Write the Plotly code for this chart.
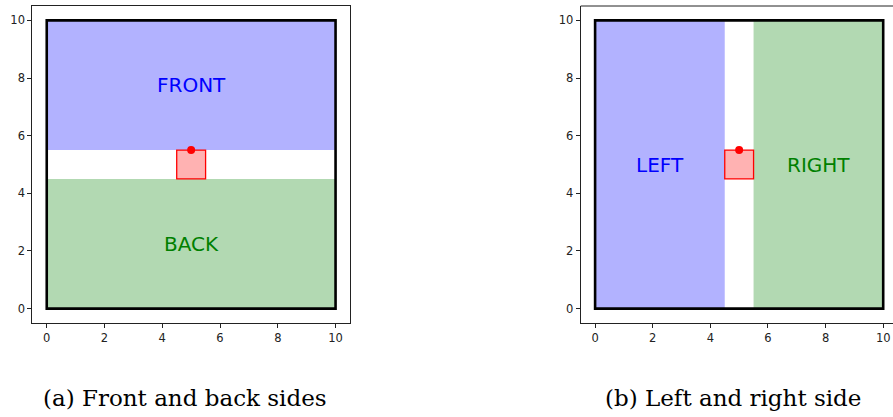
import plotly.graph_objects as go

W, H = 893, 417

# Data
tick_vals = [0, 2, 4, 6, 8, 10]
tick_text = ["0", "2", "4", "6", "8", "10"]

# Panel (a): front/back regions (x0, y0, x1, y1)
front_rect = [0, 5.5, 10, 10]
back_rect = [0, 0, 10, 4.5]
# Panel (b): left/right regions
left_rect = [0, 0, 4.5, 10]
right_rect = [5.5, 0, 10, 10]
# shared
object_rect = [4.5, 4.5, 5.5, 5.5]
border_rect = [0, 0, 10, 10]
point_xy = [5, 5.5]

labels_a = [("FRONT", 5, 7.75, "blue"), ("BACK", 5, 2.25, "green")]
labels_b = [("LEFT", 2.25, 5, "blue"), ("RIGHT", 7.75, 5, "green")]

captions = [("(a) Front and back sides", 184.5), ("(b) Left and right side", 732.5)]

BLUE_FILL = "rgba(0,0,255,0.3)"
GREEN_FILL = "rgba(0,128,0,0.3)"
RED_FILL = "rgba(255,0,0,0.3)"

fig = go.Figure()

axes = [("x", "y", labels_a, [(front_rect, BLUE_FILL), (back_rect, GREEN_FILL)]),
        ("x2", "y2", labels_b, [(left_rect, BLUE_FILL), (right_rect, GREEN_FILL)])]

for xr, yr, labels, regions in axes:
    for rect, col in regions:
        fig.add_shape(type="rect", xref=xr, yref=yr, x0=rect[0], y0=rect[1], x1=rect[2], y1=rect[3],
                      fillcolor=col, line=dict(width=0), layer="below")
    fig.add_shape(type="rect", xref=xr, yref=yr, x0=object_rect[0], y0=object_rect[1],
                  x1=object_rect[2], y1=object_rect[3], fillcolor=RED_FILL,
                  line=dict(color="red", width=1.3), layer="below")
    fig.add_shape(type="rect", xref=xr, yref=yr, x0=border_rect[0], y0=border_rect[1],
                  x1=border_rect[2], y1=border_rect[3], fillcolor="rgba(0,0,0,0)",
                  line=dict(color="black", width=2.6))
    fig.add_trace(go.Scatter(x=[point_xy[0]], y=[point_xy[1]], xaxis=xr, yaxis=yr, mode="markers",
                             marker=dict(color="red", size=8), showlegend=False, hoverinfo="skip"))
    for txt, tx, ty, col in labels:
        fig.add_annotation(x=tx, y=ty, xref=xr, yref=yr, text=txt, showarrow=False,
                           font=dict(family="DejaVu Sans", size=20, color=col))

# top frame line for panel (b) (right spine is off-canvas)
fig.add_shape(type="line", xref="x2 domain", yref="y2 domain", x0=0, x1=1.01, y0=1, y1=1,
              line=dict(color="#222", width=1))

for txt, cx in captions:
    fig.add_annotation(x=cx / W, y=1 - 398 / H, xref="paper", yref="paper", text=txt,
                       showarrow=False, xanchor="center", yanchor="middle",
                       font=dict(family="DejaVu Serif", size=23, color="black"))

axis_common = dict(tickvals=tick_vals, ticktext=tick_text, showgrid=False, zeroline=False,
                   showline=True, linecolor="#222", linewidth=1, ticks="outside", ticklen=4,
                   tickcolor="#222", tickfont=dict(family="DejaVu Sans", size=11.5, color="#222"),
                   fixedrange=True, automargin=False)

ydom = [1 - 323 / H, 1 - 6 / H]
fig.update_layout(
    width=W, height=H, margin=dict(l=0, r=0, t=0, b=0, autoexpand=False),
    paper_bgcolor="white", plot_bgcolor="white", showlegend=False,
    xaxis=dict(domain=[32.3 / W, 350 / W], range=[-0.5, 10.5], mirror=True, anchor="y", **axis_common),
    yaxis=dict(domain=ydom, range=[-0.5, 10.5], mirror=True, anchor="x", **axis_common),
    xaxis2=dict(domain=[580.7 / W, 1.0], range=[-0.5, 10.34], mirror=False, anchor="y2", **axis_common),
    yaxis2=dict(domain=ydom, range=[-0.5, 10.5], mirror=False, anchor="x2", **axis_common),
)

fig.write_html("out.html", config={"displayModeBar": False},
               post_script="document.body.style.margin='0';document.body.style.overflow='hidden';")
